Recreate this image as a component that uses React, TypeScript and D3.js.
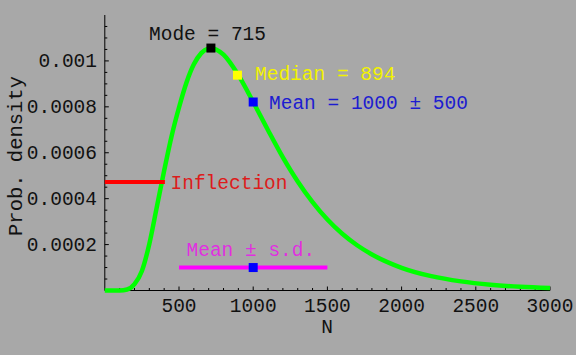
import React, { useEffect } from "react";
import * as d3 from "d3";

// Curve (N, probability density)
const curveN = [0, 100, 150, 200, 250, 300, 350, 400, 450, 500, 550, 600, 650, 700, 715, 750, 800, 900, 1000, 1100, 1200, 1300, 1400, 1500, 1600, 1700, 1800, 2000, 2200, 2400, 2600, 2800, 3000];
const density = [0, 0.0000002, 0.0000045, 0.000028, 0.000085, 0.000203, 0.000362, 0.000522, 0.000672, 0.000797, 0.000905, 0.000985, 0.001034, 0.0010545, 0.001056, 0.00105, 0.001027, 0.000938, 0.000821, 0.000698, 0.00058, 0.000475, 0.000385, 0.000309, 0.000247, 0.000197, 0.000157, 0.000099, 0.0000625, 0.0000397, 0.0000253, 0.0000163, 0.0000106];

// Annotated points
const modeN = 715, modeD = 0.001056;
const medianN = 894, medianD = 0.000938;
const meanN = 1000, meanD = 0.000821;
const sdLow = 500, sdHigh = 1500, sdLevel = 0.0001;
const inflectionN = 405, inflectionD = 0.000473;

const xMajor = [500, 1000, 1500, 2000, 2500, 3000];
const xMajorLabels = ["500", "1000", "1500", "2000", "2500", "3000"];
const yMajor = [0.0002, 0.0004, 0.0006, 0.0008, 0.001];
const yMajorLabels = ["0.0002", "0.0004", "0.0006", "0.0008", "0.001"];

const W = 576, H = 355;
const FONT = "'Liberation Mono', 'DejaVu Sans Mono', monospace";
const FS = 19.5;

export default function App() {
  useEffect(() => {
    document.body.style.margin = "0";
  }, []);

  const x = d3.scaleLinear().domain([0, 3000]).range([104.8, 550]);
  const y = d3.scaleLinear().domain([0, 0.0012]).range([290.5, 15]);

  const line = d3
    .line<number>()
    .x((_, i) => x(curveN[i]))
    .y((d) => y(d))
    .curve(d3.curveMonotoneX);

  const xMinor = d3.range(100, 3000, 100).filter((v) => v % 500 !== 0);
  const yMinor = d3.range(1, 24).map((k) => k * 0.00005).filter((v) => Math.abs(v / 0.0002 - Math.round(v / 0.0002)) > 1e-6);

  const sq = 9;
  const square = (cx: number, cy: number, fill: string) => (
    <rect x={cx - sq / 2} y={cy - sq / 2} width={sq} height={sq} fill={fill} />
  );

  const x0 = x(0), y0 = y(0);

  return (
    <svg width={W} height={H} style={{ position: "absolute", left: 0, top: 0, display: "block" }}>
      <rect x={0} y={0} width={W} height={H} fill="#a8a8a8" />

      {/* axes */}
      <line x1={x0} y1={y0} x2={x(3000)} y2={y0} stroke="#000" strokeWidth={1} />
      <line x1={x0} y1={y0} x2={x0} y2={y(0.0012)} stroke="#000" strokeWidth={1} />

      {xMinor.map((v) => (
        <line key={"xm" + v} x1={x(v)} x2={x(v)} y1={y0} y2={y0 - 2.5} stroke="#000" strokeWidth={1} />
      ))}
      {xMajor.map((v) => (
        <line key={"xM" + v} x1={x(v)} x2={x(v)} y1={y0} y2={y0 - 4} stroke="#000" strokeWidth={1} />
      ))}
      {yMinor.map((v) => (
        <line key={"ym" + v} x1={x0} x2={x0 + 2.5} y1={y(v)} y2={y(v)} stroke="#000" strokeWidth={1} />
      ))}
      {yMajor.map((v) => (
        <line key={"yM" + v} x1={x0} x2={x0 + 4} y1={y(v)} y2={y(v)} stroke="#000" strokeWidth={1} />
      ))}

      <g fontFamily={FONT} fontSize={FS} fill="#111">
        {xMajor.map((v, i) => (
          <text key={"xl" + v} x={x(v)} y={311.5} textAnchor="middle">
            {xMajorLabels[i]}
          </text>
        ))}
        {yMajor.map((v, i) => (
          <text key={"yl" + v} x={97} y={y(v) + 6.5} textAnchor="end">
            {yMajorLabels[i]}
          </text>
        ))}
        <text x={327} y={333} textAnchor="middle">N</text>
        <text
          transform={`translate(22,156) rotate(-90)`}
          textAnchor="middle"
          fontSize={20.5}
        >
          Prob. density
        </text>
      </g>

      {/* mean ± s.d. */}
      <line x1={x(sdLow)} x2={x(sdHigh)} y1={y(sdLevel)} y2={y(sdLevel)} stroke="#ff00ff" strokeWidth={4} />

      {/* curve */}
      <path d={line(density) || ""} fill="none" stroke="#00ff00" strokeWidth={4.5} strokeLinejoin="round" />

      {/* inflection (drawn over the curve) */}
      <line x1={x0} x2={x(inflectionN)} y1={y(inflectionD)} y2={y(inflectionD)} stroke="#ff0000" strokeWidth={4} />

      {square(x(meanN), y(sdLevel), "#0000ff")}
      {square(x(modeN), y(modeD), "#000000")}
      {square(x(medianN), y(medianD), "#ffff00")}
      {square(x(meanN), y(meanD), "#0000ff")}

      <g fontFamily={FONT} fontSize={FS}>
        <text x={149} y={40} fill="#111">Mode = 715</text>
        <text x={255} y={80} fill="#f2f200">Median = 894</text>
        <text x={269} y={108.5} fill="#1c1cd0">Mean = 1000 ± 500</text>
        <text x={170.5} y={188.5} fill="#dd1c1c">Inflection</text>
        <text x={186.5} y={256} fill="#e030e0">Mean ± s.d.</text>
      </g>
    </svg>
  );
}
